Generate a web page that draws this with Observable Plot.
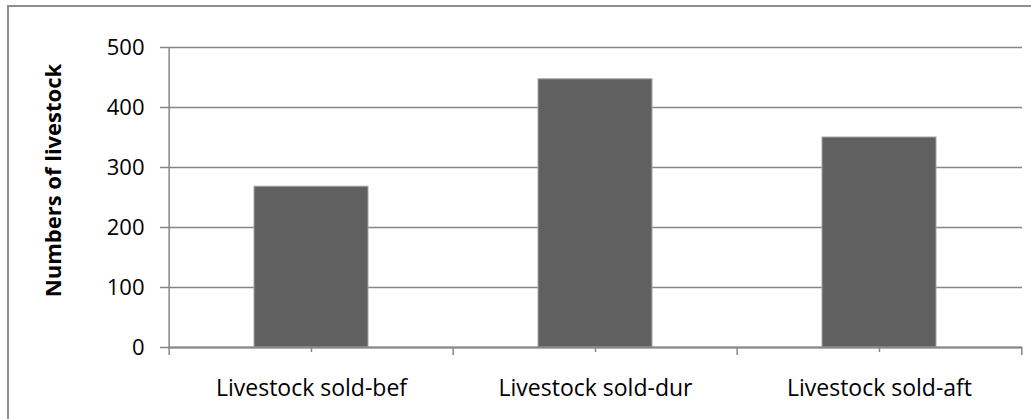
<!DOCTYPE html>
<html><head><meta charset="utf-8">
<script src="https://cdn.jsdelivr.net/npm/d3@7"></script>
<script src="https://cdn.jsdelivr.net/npm/@observablehq/plot@0.6"></script>
<style>
html,body{margin:0;padding:0;background:#fff;overflow:hidden;}
#wrap{position:relative;width:1031px;height:419px;}
#border{position:absolute;left:7px;top:5px;width:1100px;height:500px;border:2px solid #8e8e8e;pointer-events:none;}
</style></head><body><div id="wrap"><div id="border"></div></div>
<script>
const categories = ["Livestock sold-bef", "Livestock sold-dur", "Livestock sold-aft"];
const values = [268, 447, 350];
const yTicks = [0, 100, 200, 300, 400, 500];
const yLabel = "Numbers of livestock";

const W = 1031, H = 419, mL = 168, mR = 9, mT = 47, mB = 72;
const step = (W - mL - mR) / categories.length;
const data = categories.map((c, i) => ({category: c, value: values[i]}));
const gray = "#868686";

const plot = Plot.plot({
  width: W, height: H,
  marginLeft: mL, marginRight: mR, marginTop: mT, marginBottom: mB,
  style: {fontFamily: "'Open Sans', sans-serif", fontSize: "22px", color: "#000", background: "transparent"},
  x: {domain: categories, paddingInner: 0.6, paddingOuter: 0.3, label: null},
  y: {domain: [0, 500], label: null},
  marks: [
    Plot.gridY(yTicks, {stroke: gray, strokeOpacity: 1, strokeWidth: 1.5}),
    Plot.barY(data, {x: "category", y: "value", fill: "#606060", stroke: "#a6a6a6", strokeWidth: 1}),
    Plot.axisY(yTicks, {tickSize: 8, tickPadding: 16, stroke: gray, strokeOpacity: 1, strokeWidth: 1.5, fontSize: 22, fill: "#000", label: null}),
    Plot.ruleX([categories[0]], {y1: 0, y2: 500, dx: -step / 2, stroke: gray, strokeWidth: 1.5}),
    Plot.ruleY([0], {stroke: gray, strokeWidth: 2}),
    Plot.ruleX(categories, {y1: 0, y2: 0, insetBottom: -8, dx: -step / 2, stroke: gray, strokeWidth: 1.5}),
    Plot.ruleX([categories[categories.length - 1]], {y1: 0, y2: 0, insetBottom: -8, dx: step / 2, stroke: gray, strokeWidth: 1.5}),
    Plot.axisX({tickSize: 5, tickPadding: 27, stroke: gray, strokeOpacity: 1, strokeWidth: 1.5, fontSize: 23, fill: "#000", label: null}),
    Plot.text([yLabel], {frameAnchor: "left", rotate: -90, dx: -115, dy: -17, textAnchor: "middle", lineAnchor: "middle", fontWeight: "bold", fontSize: 22, fill: "#000"})
  ]
});
document.getElementById("wrap").prepend(plot);
plot.style.position = "absolute";
plot.style.left = "0";
plot.style.top = "0";
</script>
</body></html>
